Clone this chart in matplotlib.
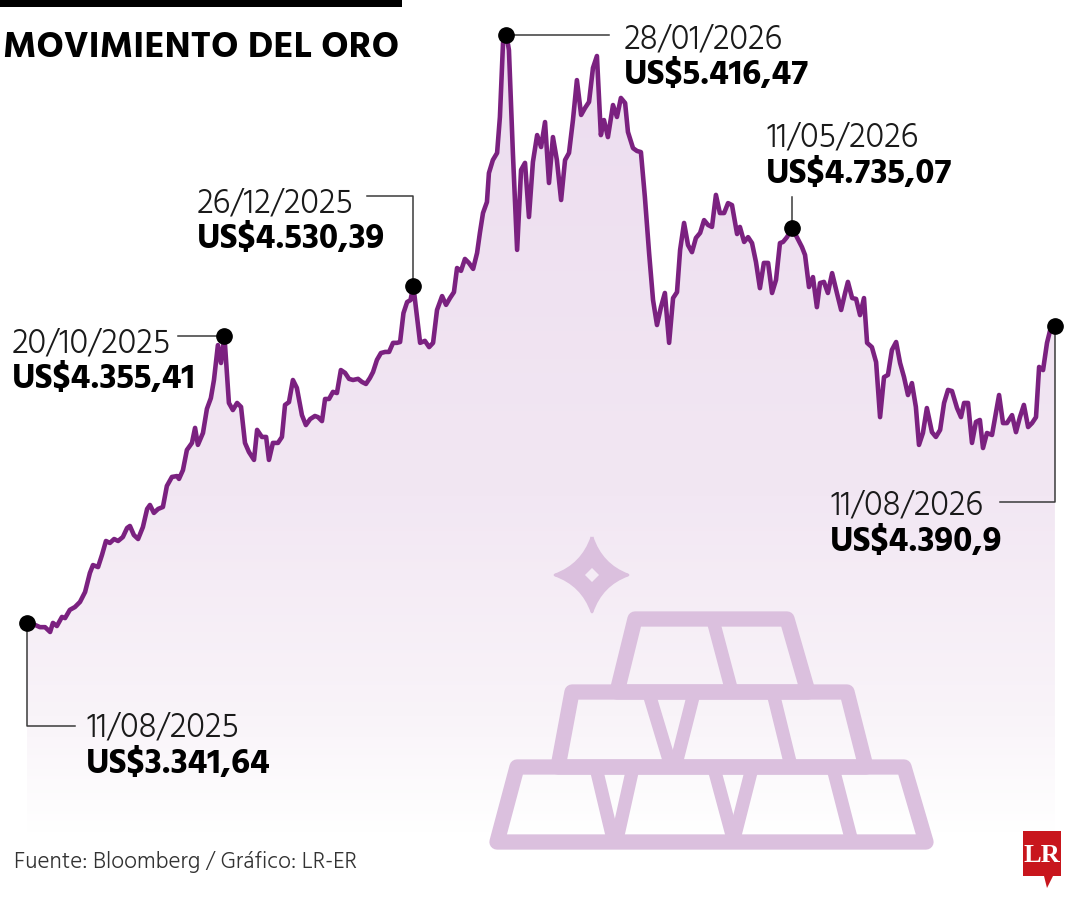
import numpy as np
import matplotlib
matplotlib.use("Agg")
import matplotlib.pyplot as plt
from matplotlib.colors import LinearSegmentedColormap
from matplotlib.path import Path
from matplotlib.patches import PathPatch, Polygon, Rectangle

# dias desde el 11/08/2025 y precio del oro (US$ por onza)
dias = [0, 2.8, 4.6, 6.4, 8.2, 9.2, 10.6, 12.4, 13.5, 15.2, 17.0, 18.8, 20.6, 22.3, 23.4, 25.2,
        26.6, 28.0, 29.4, 30.9, 32.3, 34.0, 35.5, 36.5, 37.9, 39.4, 41.1, 42.6, 43.6, 45.0, 46.5,
        48.2, 49.6, 51.4, 53.2, 53.9, 55.3, 56.7, 58.5, 59.6, 60.6, 62.4, 63.8, 65.2, 66.3, 67.7,
        68.8, 70.0, 71.6, 73.0, 74.5, 75.9, 77.3, 78.7, 80.5, 81.6, 83.3, 84.8, 85.8, 87.2, 89.0,
        90.4, 91.5, 92.9, 94.3, 95.7, 97.5, 98.9, 100.4, 102.1, 103.2, 104.6, 105.7, 107.1, 108.5,
        109.9, 111.3, 112.8, 114.2, 115.6, 117.4, 118.8, 120.2, 121.6, 122.7, 124.1, 125.5, 127.0,
        128.4, 129.8, 131.2, 132.3, 133.5, 134.8, 136.0, 137.0, 139.4, 141.1, 142.6, 144.0, 145.4,
        147.2, 148.6, 150.0, 151.4, 152.5, 153.9, 155.3, 156.7, 158.2, 159.6, 160.6, 161.7, 163.1,
        163.8, 165.2, 166.7, 167.7, 168.8, 170.0, 170.9, 172.3, 173.8, 175.2, 176.6, 178.0, 179.4,
        180.9, 182.3, 183.7, 185.1, 186.5, 187.9, 189.4, 190.8, 192.2, 193.6, 195.0, 196.5, 197.9,
        199.3, 200.7, 202.1, 203.5, 204.6, 206.0, 207.8, 209.2, 210.6, 212.1, 213.1, 214.9, 216.3,
        217.7, 219.1, 220.6, 222.0, 223.4, 224.8, 226.2, 227.7, 229.1, 230.5, 231.6, 233.0, 234.4,
        235.8, 237.2, 238.7, 240.1, 241.5, 242.9, 244.3, 245.7, 247.2, 248.6, 250.0, 251.8, 252.8,
        254.3, 255.7, 257.1, 258.5, 259.9, 261.3, 262.8, 264.2, 265.6, 267.0, 268.1, 269.5, 271.3,
        273.0, 274.8, 275.9, 277.3, 278.7, 280.1, 281.2, 282.6, 284.0, 285.5, 287.2, 288.7, 290.1,
        291.1, 292.6, 294.0, 295.4, 296.8, 297.9, 299.6, 301.1, 302.5, 303.9, 305.3, 306.7, 308.2,
        309.6, 311.0, 312.4, 313.8, 315.2, 316.3, 317.7, 319.1, 320.9, 322.3, 323.8, 325.2, 326.6,
        328.0, 329.8, 331.2, 332.3, 333.7, 335.1, 336.5, 337.9, 339.0, 340.4, 342.2, 343.6, 344.7,
        346.1, 347.5, 349.3, 350.7, 352.1, 353.5, 355.0, 356.4, 357.8, 358.9, 360.3, 361.7, 363.1,
        364.5]
precios = [3341.64, 3335, 3327, 3327, 3310, 3342, 3331, 3363, 3359, 3388, 3398, 3416, 3451, 3518,
           3546, 3539, 3582, 3631, 3624, 3638, 3631, 3645, 3677, 3684, 3652, 3638, 3680, 3744, 3758,
           3730, 3744, 3751, 3825, 3857, 3860, 3850, 3881, 3952, 3977, 4030, 3970, 4012, 4097, 4135,
           4199, 4322, 4259, 4355.41, 4118, 4093, 4118, 4104, 3977, 3945, 3917, 4023, 3998, 3998,
           3917, 3977, 3977, 3998, 4111, 4121, 4199, 4171, 4075, 4040, 4061, 4072, 4068, 4054, 4132,
           4132, 4157, 4153, 4234, 4224, 4203, 4199, 4203, 4192, 4185, 4206, 4227, 4270, 4294, 4298,
           4298, 4330, 4330, 4333, 4435, 4474, 4481, 4530.39, 4330, 4337, 4315, 4330, 4446, 4495,
           4464, 4488, 4509, 4594, 4584, 4626, 4612, 4591, 4647, 4718, 4788, 4827, 4929, 4975, 5000,
           5127, 5388, 5416.47, 5363, 5000, 4658, 4940, 4965, 4774, 4968, 5063, 5021, 5109, 4894,
           5056, 4975, 4834, 4975, 5000, 5116, 5257, 5134, 5159, 5180, 5300, 5342, 5063, 5116, 5056,
           5169, 5127, 5194, 5176, 5074, 5017, 5007, 5003, 4845, 4647, 4481, 4393, 4456, 4506, 4330,
           4488, 4509, 4658, 4753, 4675, 4650, 4700, 4718, 4763, 4746, 4739, 4852, 4788, 4788, 4823,
           4816, 4714, 4739, 4686, 4703, 4682, 4615, 4523, 4612, 4612, 4506, 4552, 4682, 4686, 4703,
           4735.07, 4703, 4668, 4640, 4527, 4562, 4456, 4541, 4545, 4506, 4576, 4506, 4446, 4506,
           4545, 4488, 4485, 4428, 4488, 4330, 4315, 4262, 4068, 4209, 4217, 4305, 4333, 4259, 4209,
           4146, 4188, 4104, 3970, 4012, 4100, 4015, 3998, 4023, 4118, 4164, 4160, 4100, 4068, 4118,
           4118, 3977, 4051, 4058, 3959, 4012, 4005, 4083, 4146, 4047, 4047, 4075, 4015, 4068, 4111,
           4033, 4047, 4068, 4245, 4234, 4330, 4386, 4390.9]

# puntos destacados
marca_dias = [0, 70.0, 137.0, 170.0, 271.3, 364.5]
marca_fechas = ["11/08/2025", "20/10/2025", "26/12/2025", "28/01/2026", "11/05/2026", "11/08/2026"]
marca_valores = ["US$3.341,64", "US$4.355,41", "US$4.530,39", "US$5.416,47", "US$4.735,07", "US$4.390,9"]

titulo = "MOVIMIENTO DEL ORO"
fuente = "Fuente: Bloomberg / Gráfico: LR-ER"

FAM = ["Hind", "DejaVu Sans"]
MORADO = "#7b2180"
ICONO = "#dbc0de"
W, H = 1080, 900

fig = plt.figure(figsize=(W / 100, H / 100), dpi=100)
fig.patch.set_facecolor("white")

ax = fig.add_axes([0, 0, 1, 1])
ax.set_xlim(-9.57, 373.4)
ax.set_ylim(2364.4, 5539.6)
ax.axis("off")

y0, y1 = ax.get_ylim()

# relleno degradado bajo la curva
cmap = LinearSegmentedColormap.from_list(
    "lila", [(0, "#ffffff"), (0.072, "#ffffff"), (0.2, "#f9f4f9"), (0.45, "#f2e7f3"), (1, "#ecdcef")])
grad = np.linspace(0, 1, 256).reshape(-1, 1)
im = ax.imshow(grad, extent=[dias[0], dias[-1], y0, y1], origin="lower", cmap=cmap,
               aspect="auto", zorder=1, interpolation="bicubic")
area = ax.fill_between(dias, precios, y0, facecolor="none", edgecolor="none")
im.set_clip_path(area.get_paths()[0], transform=ax.transData)

ax.plot(dias, precios, color=MORADO, lw=3.3, solid_joinstyle="round", zorder=3)


def px2data(x, y):
    return ax.transData.inverted().transform((x, H - y))


def data2px(d, v):
    x, y = ax.transData.transform((d, v))
    return x, H - y


# capa en pixeles para textos e icono
deco = fig.add_axes([0, 0, 1, 1])
deco.set_xlim(0, W)
deco.set_ylim(H, 0)
deco.axis("off")
deco.patch.set_alpha(0)

# conectores (codo en pixeles) y posicion de textos
codos = [
    lambda px, py: [(px, py), (px, 726), (75, 726)],
    lambda px, py: [(178, py), (px, py)],
    lambda px, py: [(367, 196), (px, 196), (px, py)],
    lambda px, py: [(px, py), (609, py)],
    lambda px, py: [(px, 197), (px, py)],
    lambda px, py: [(px, py), (px, 502), (1000, 502)],
]
texto_pos = [(86, 737), (12, 352), (197, 212), (624, 48), (766, 147), (830, 515)]

for d, fecha, valor, codo, (tx, ty) in zip(marca_dias, marca_fechas, marca_valores, codos, texto_pos):
    i = int(np.argmin(np.abs(np.array(dias) - d)))
    px, py = data2px(dias[i], precios[i])
    pts = np.array([px2data(x, y) for x, y in codo(px, py)])
    ax.plot(pts[:, 0], pts[:, 1], color="#3a3a3a", lw=1.1, zorder=4)
    ax.plot(dias[i], precios[i], "o", color="black", ms=11, zorder=5)
    deco.text(tx, ty, fecha, family=FAM, weight=300, fontsize=24.4, color="#1a1a1a",
              ha="left", va="baseline")
    deco.text(tx, ty + 36, valor, family=FAM, weight=700, fontsize=25.3, color="black",
              ha="left", va="baseline")

# titulo y barra superior
deco.add_patch(Rectangle((0, 0), 402, 7, color="black", lw=0))
deco.text(3, 57, titulo, family=FAM, weight=700, fontsize=26.9, color="black",
          ha="left", va="baseline")

# fuente
deco.text(14, 868, fuente, family=FAM, weight=300, fontsize=16.7, color="#333333",
          ha="left", va="baseline")

# logo LR
deco.add_patch(Polygon([(1023, 831), (1061, 831), (1061, 876), (1053, 876), (1047, 888),
                        (1044, 876), (1023, 876)], closed=True, color="#c8161d", lw=0))
deco.text(1042, 855, "LR", family=["Liberation Serif", "DejaVu Serif"], weight="bold",
          fontsize=19, color="white", ha="center", va="center")

# destello
T, R, B, L, C = (592, 537), (628, 575), (592, 612), (555, 575), (592, 575)


def ctrl(a, b, k=0.26):
    return (C[0] + k * (a[0] - C[0]) + k * (b[0] - C[0]), C[1] + k * (a[1] - C[1]) + k * (b[1] - C[1]))


verts = [T, ctrl(T, R), R, ctrl(R, B), B, ctrl(B, L), L, ctrl(L, T), T,
         (592, 566), (583, 575), (592, 584), (601, 575), (592, 566)]
codes = [Path.MOVETO] + [Path.CURVE3] * 8 + [Path.MOVETO] + [Path.LINETO] * 3 + [Path.CLOSEPOLY]
deco.add_patch(PathPatch(Path(verts, codes), facecolor=ICONO, edgecolor=ICONO, lw=2,
                         joinstyle="round"))

# lingotes
filas = [
    [(635, 619), (787, 619), (808, 692), (617, 692)],
    [(572, 692), (847, 692), (866, 767), (558, 767)],
    [(517, 767), (904, 767), (926, 842), (497, 842)],
]
for fila in filas:
    deco.add_patch(Polygon(fila, closed=True, fill=False, edgecolor=ICONO, lw=11,
                           joinstyle="round"))
divisiones = [
    [(714, 624), (731, 688)],
    [(650, 697), (669, 760)], [(693, 697), (677, 760)], [(774, 697), (790, 762)],
    [(597, 772), (612, 835)], [(632, 772), (618, 835)],
    [(715, 772), (732, 835)], [(751, 772), (735, 835)],
    [(834, 772), (851, 838)],
]
for (xa, ya), (xb, yb) in divisiones:
    deco.plot([xa, xb], [ya, yb], color=ICONO, lw=9.5, solid_capstyle="round")

fig.savefig("out.png", dpi=100, facecolor="white")
